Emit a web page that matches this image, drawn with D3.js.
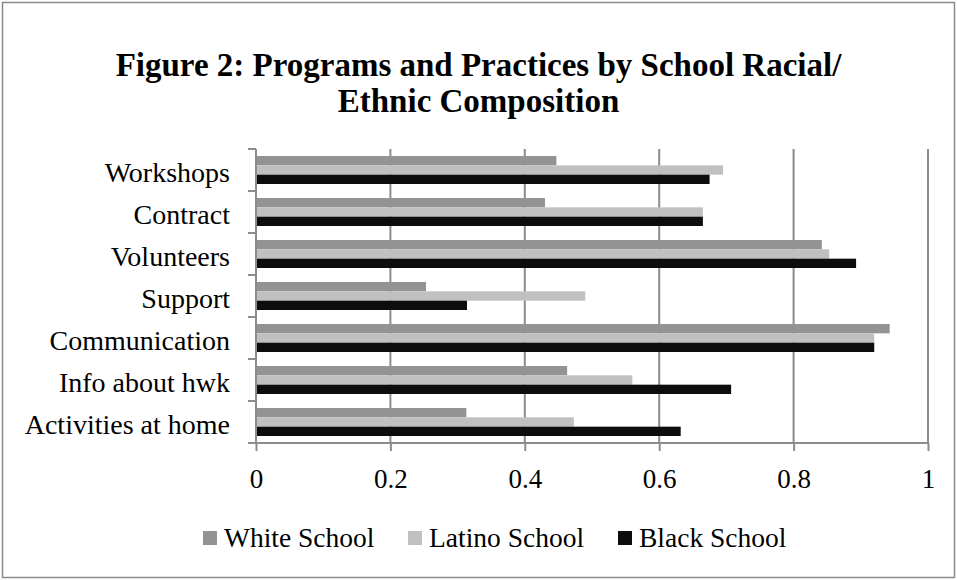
<!DOCTYPE html>
<html>
<head>
<meta charset="utf-8">
<script src="https://cdn.jsdelivr.net/npm/d3@7"></script>
<style>
html,body{margin:0;padding:0;background:#fff;}
svg{display:block;}
</style>
</head>
<body>
<script>
const categories = ["Workshops","Contract","Volunteers","Support","Communication","Info about hwk","Activities at home"];
const seriesNames = ["White School","Latino School","Black School"];
const whiteSchool  = [0.447, 0.430, 0.842, 0.253, 0.943, 0.463, 0.313];
const latinoSchool = [0.695, 0.665, 0.853, 0.490, 0.920, 0.560, 0.473];
const blackSchool  = [0.675, 0.665, 0.893, 0.314, 0.920, 0.707, 0.632];
const xTicks = [0, 0.2, 0.4, 0.6, 0.8, 1];
const xTickLabels = ["0","0.2","0.4","0.6","0.8","1"];
const titleLines = ["Figure 2: Programs and Practices by School Racial/","Ethnic Composition"];

const colors = ["#939393","#c0c0c0","#0d0d0d"];
const seriesValues = [whiteSchool, latinoSchool, blackSchool];

const W = 957, H = 580;
const svg = d3.select("body").append("svg").attr("width", W).attr("height", H);
const font = "'Liberation Serif', 'Times New Roman', serif";

svg.append("rect").attr("x",2.5).attr("y",2.5).attr("width",W-5).attr("height",H-5)
  .attr("fill","#fff").attr("stroke","#8a8a8a").attr("stroke-width",1.5);

// title
svg.append("g").selectAll("text").data(titleLines).join("text")
  .attr("x", W/2).attr("y",(d,i)=>76+i*36)
  .attr("text-anchor","middle")
  .attr("font-family",font).attr("font-weight","bold").attr("font-size",33)
  .attr("fill","#000").text(d=>d);

const x = d3.scaleLinear().domain([0,1]).range([256,928]);
const y = d3.scaleBand().domain(categories).range([149,443]).paddingInner(0).paddingOuter(0);
const step = y.bandwidth();
const barH = step/4.5;
const sub = d3.scaleBand().domain(seriesNames).range([0.75*barH, 3.75*barH]).padding(0);

// gridlines
svg.append("g").selectAll("line").data(xTicks.slice(1)).join("line")
  .attr("x1",d=>x(d)).attr("x2",d=>x(d)).attr("y1",149).attr("y2",443)
  .attr("stroke","#8c8c8c").attr("stroke-width",2);

// bars
const rows = categories.map((c,i)=>({c, vals: seriesValues.map((s,j)=>({name:seriesNames[j], v:s[i], color:colors[j]}))}));
const g = svg.append("g").selectAll("g").data(rows).join("g")
  .attr("transform",d=>`translate(0,${y(d.c)})`);
g.selectAll("rect").data(d=>d.vals).join("rect")
  .attr("x",x(0)).attr("y",d=>sub(d.name)).attr("width",d=>x(d.v)-x(0)).attr("height",sub.bandwidth())
  .attr("fill",d=>d.color);

// bottom axis
const xAxis = d3.axisBottom(x).tickValues(xTicks).tickFormat((d,i)=>xTickLabels[i]).tickSize(8).tickSizeOuter(0).tickPadding(18);
const xa = svg.append("g").attr("transform","translate(0,443)").call(xAxis);
xa.select(".domain").attr("stroke","#8c8c8c").attr("stroke-width",2).attr("d","M248,0H928");
xa.selectAll(".tick line").attr("stroke","#8c8c8c").attr("stroke-width",2);
xa.selectAll(".tick text").attr("font-family",font).attr("font-size",27).attr("fill","#000");

// left axis
const yAxis = d3.axisLeft(y).tickSize(0).tickPadding(26);
const ya = svg.append("g").attr("transform","translate(256,0)").call(yAxis);
ya.select(".domain").attr("stroke","#8c8c8c").attr("stroke-width",2).attr("d","M0,149V443");
ya.selectAll(".tick text").attr("font-family",font).attr("font-size",28).attr("fill","#000").attr("dy","0.42em");
// category boundary ticks
const bounds = categories.map(c=>y(c)).concat([443]);
svg.append("g").selectAll("line").data(bounds).join("line")
  .attr("x1",248).attr("x2",256).attr("y1",d=>d).attr("y2",d=>d)
  .attr("stroke","#8c8c8c").attr("stroke-width",2);

// legend
const legendX = [203, 408, 618];
const lg = svg.append("g").selectAll("g").data(seriesNames).join("g")
  .attr("transform",(d,i)=>`translate(${legendX[i]},531)`);
lg.append("rect").attr("width",14).attr("height",14).attr("fill",(d,i)=>colors[i]);
lg.append("text").attr("x",21).attr("y",16).attr("font-family",font).attr("font-size",27.5)
  .attr("fill","#000").text(d=>d);
</script>
</body>
</html>
